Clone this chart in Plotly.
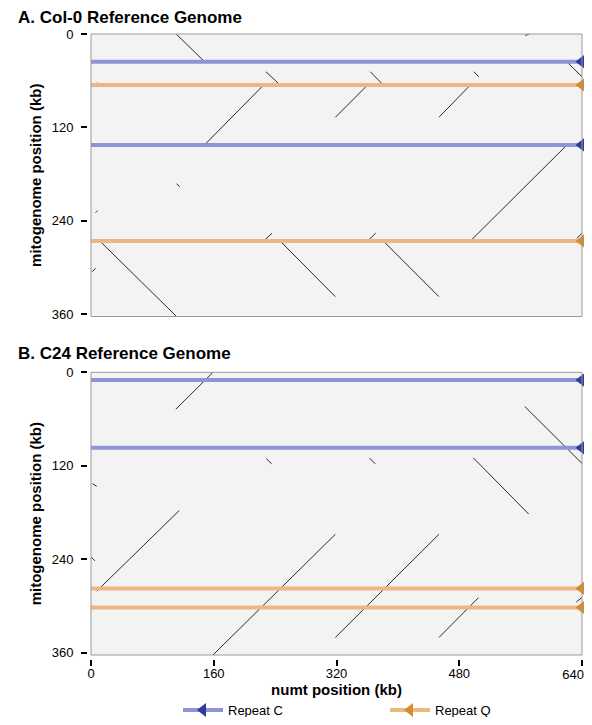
import plotly.graph_objects as go

# ---------------- data (kb) ----------------
# Panel A: Col-0 reference genome
a_repeat_c = [35.5, 142.5]
a_repeat_q = [65.5, 266.0]
a_seg_x0 = [111, 566, 620, 228, 364, 499, 8.5, 148, 318.5, 453.5, 494.5, 11.5, 246.5, 381, 225, 360.5, 633.5, 111.5, 6, 1.5]
a_seg_y0 = [0, 2, 35.5, 48.5, 48.5, 48.5, 62.5, 142.5, 107, 107, 266, 266, 266, 266, 266, 266, 262.5, 192.5, 229.5, 305.5]
a_seg_x1 = [148, 571, 640, 246.5, 381, 505.5, 11.5, 225, 360.5, 494.5, 620.5, 111.5, 318.5, 453.5, 236, 371, 640, 115.5, 8.5, 6]
a_seg_y1 = [35.5, 0, 55, 65.5, 65.5, 55, 65.5, 65.5, 65.5, 65.5, 142.5, 363, 337.5, 337.5, 256, 256, 256, 196, 227, 301]

# Panel B: C24 reference genome
b_repeat_c = [10.0, 97.0]
b_repeat_q = [277.5, 302.0]
b_seg_x0 = [110.5, 565.5, 228.5, 363, 498.5, 2, 7.5, 0, 159, 318.5, 453.5, 632.5]
b_seg_y0 = [47.5, 44, 111, 110, 110, 143, 281, 237, 363, 340.5, 340.5, 295]
b_seg_x1 = [159, 640, 235.5, 370.5, 570.5, 7.5, 115, 5, 318.5, 453.5, 505, 640]
b_seg_y1 = [0, 117, 117.5, 117.5, 182, 146.5, 177.5, 242, 208, 208, 289.5, 289]

x_range = [0, 640]
y_range = [363, 0]
x_ticks = [0, 160, 320, 480, 640]
x_tick_labels = ["0", "160", "320", "480", "640"]
y_ticks = [0, 120, 240, 360]

panel_titles = ["A. Col-0 Reference Genome", "B. C24 Reference Genome"]
legend_names = ["Repeat C", "Repeat Q"]

# ---------------- styles ----------------
FONT = "Liberation Sans, Arial, Helvetica, sans-serif"
C_LIGHT = "#8f95d4"
C_DARK = "#2e3a9f"
Q_LIGHT = "#ecb880"
Q_DARK = "#d98a2b"
SEG = "#2a2a2a"

OFF = 8  # page body margin
W, H = 592 - OFF, 725 - 2 * OFF
ML, MR, MT, MB = 72, 10, 22, 52
PW, PH = W - ML - MR, H - MT - MB


def px_x(p):  # page pixel -> paper x
    return (p - OFF - ML) / PW


def px_y(p):  # page pixel -> paper y
    return (H - MB - (p - OFF)) / PH


fig = go.Figure()


def seg_xy(x0, y0, x1, y1):
    xs, ys = [], []
    for a, b, c, d in zip(x0, y0, x1, y1):
        xs += [a, c, None]
        ys += [b, d, None]
    return xs, ys


panels = [
    (a_seg_x0, a_seg_y0, a_seg_x1, a_seg_y1, a_repeat_c, a_repeat_q, "x", "y"),
    (b_seg_x0, b_seg_y0, b_seg_x1, b_seg_y1, b_repeat_c, b_repeat_q, "x2", "y2"),
]

for sx0, sy0, sx1, sy1, rc, rq, xa, ya in panels:
    xs, ys = seg_xy(sx0, sy0, sx1, sy1)
    fig.add_trace(go.Scatter(x=xs, y=ys, mode="lines", line=dict(color=SEG, width=1),
                             xaxis=xa, yaxis=ya, showlegend=False, hoverinfo="skip"))
    for reps, light, dark in [(rc, C_LIGHT, C_DARK), (rq, Q_LIGHT, Q_DARK)]:
        for r in reps:
            fig.add_trace(go.Scatter(x=[x_range[0], x_range[1]], y=[r, r], mode="lines",
                                     line=dict(color=light, width=4),
                                     xaxis=xa, yaxis=ya, showlegend=False, hoverinfo="skip"))
        fig.add_trace(go.Scatter(x=[x_range[1]] * len(reps), y=reps, mode="markers",
                                 marker=dict(symbol="triangle-left", size=13, color=dark),
                                 cliponaxis=False, xaxis=xa, yaxis=ya,
                                 showlegend=False, hoverinfo="skip"))

# legend entries
for name, light, dark in [(legend_names[0], C_LIGHT, C_DARK), (legend_names[1], Q_LIGHT, Q_DARK)]:
    fig.add_trace(go.Scatter(x=[None], y=[None], mode="lines+markers", name=name,
                             line=dict(color=light, width=4),
                             marker=dict(symbol="triangle-left", size=12, color=dark),
                             xaxis="x2", yaxis="y2"))

# helper trace so the overlay axis carrying the last tick label is drawn
fig.add_trace(go.Scatter(x=[None], y=[None], mode="markers", xaxis="x3", yaxis="y2",
                         showlegend=False, hoverinfo="skip"))

xdom = [px_x(91), px_x(582)]
top_dom = [px_y(316.5), px_y(34)]
bot_dom = [px_y(655), px_y(372.3)]

tickfont = dict(family=FONT, size=13, color="black")
titlefont = dict(family=FONT, size=15, color="black", weight="bold")

common_y = dict(range=y_range, tickvals=y_ticks, ticks="outside", ticklen=6, tickwidth=2,
                tickcolor="black", showgrid=False, zeroline=False, showline=False,
                anchor="free", position=px_x(87), tickfont=tickfont, ticklabelstandoff=5,
                ticklabeloverflow="allow",
                title=dict(text="mitogenome position (kb)", font=titlefont, standoff=5))

fig.update_layout(
    width=W, height=H,
    margin=dict(l=ML, r=MR, t=MT, b=MB, autoexpand=False),
    paper_bgcolor="white", plot_bgcolor="#f3f3f3",
    font=dict(family=FONT, color="black"),
    xaxis=dict(domain=xdom, range=x_range, anchor="y", showticklabels=False, ticks="",
               showgrid=False, zeroline=False, showline=False),
    yaxis=dict(domain=top_dom, **common_y),
    xaxis2=dict(domain=xdom, range=x_range, anchor="free", position=px_y(659),
                tickvals=x_ticks, ticktext=x_tick_labels[:-1] + [""],
                ticks="outside", ticklen=6, tickwidth=2, tickcolor="black",
                showgrid=False, zeroline=False, showline=False, tickfont=tickfont,
                ticklabelstandoff=-4, ticklabeloverflow="allow",
                title=dict(text="numt position (kb)", font=titlefont, standoff=3)),
    xaxis3=dict(domain=xdom, range=x_range, anchor="free", position=px_y(659),
                overlaying="x2", tickvals=x_ticks[-1:], ticktext=x_tick_labels[-1:],
                ticks="outside", ticklen=6, tickwidth=2, tickcolor="black",
                ticklabelposition="outside left", ticklabelshift=3,
                showgrid=False, zeroline=False, showline=False, tickfont=tickfont,
                ticklabelstandoff=3, ticklabeloverflow="allow"),
    yaxis2=dict(domain=bot_dom, **common_y),
    showlegend=True,
    legend=dict(orientation="h", x=px_x(178), xanchor="left", y=px_y(710), yanchor="middle",
                font=dict(family=FONT, size=13, color="black"), entrywidth=152,
                entrywidthmode="pixels", itemwidth=40, bgcolor="rgba(0,0,0,0)"),
)

for xr, yr in [("x domain", "y domain"), ("x2 domain", "y2 domain")]:
    fig.add_shape(type="rect", xref=xr, yref=yr, x0=0, x1=1, y0=0, y1=1,
                  line=dict(color="#9a9a9a", width=1), layer="above")

for title, cy in zip(panel_titles, [17.5, 354]):
    fig.add_annotation(text=title, xref="paper", yref="paper", x=px_x(16), y=px_y(cy),
                       xanchor="left", yanchor="middle", showarrow=False,
                       font=dict(family=FONT, size=17, color="black", weight="bold"))

fig.write_html("out.html")
